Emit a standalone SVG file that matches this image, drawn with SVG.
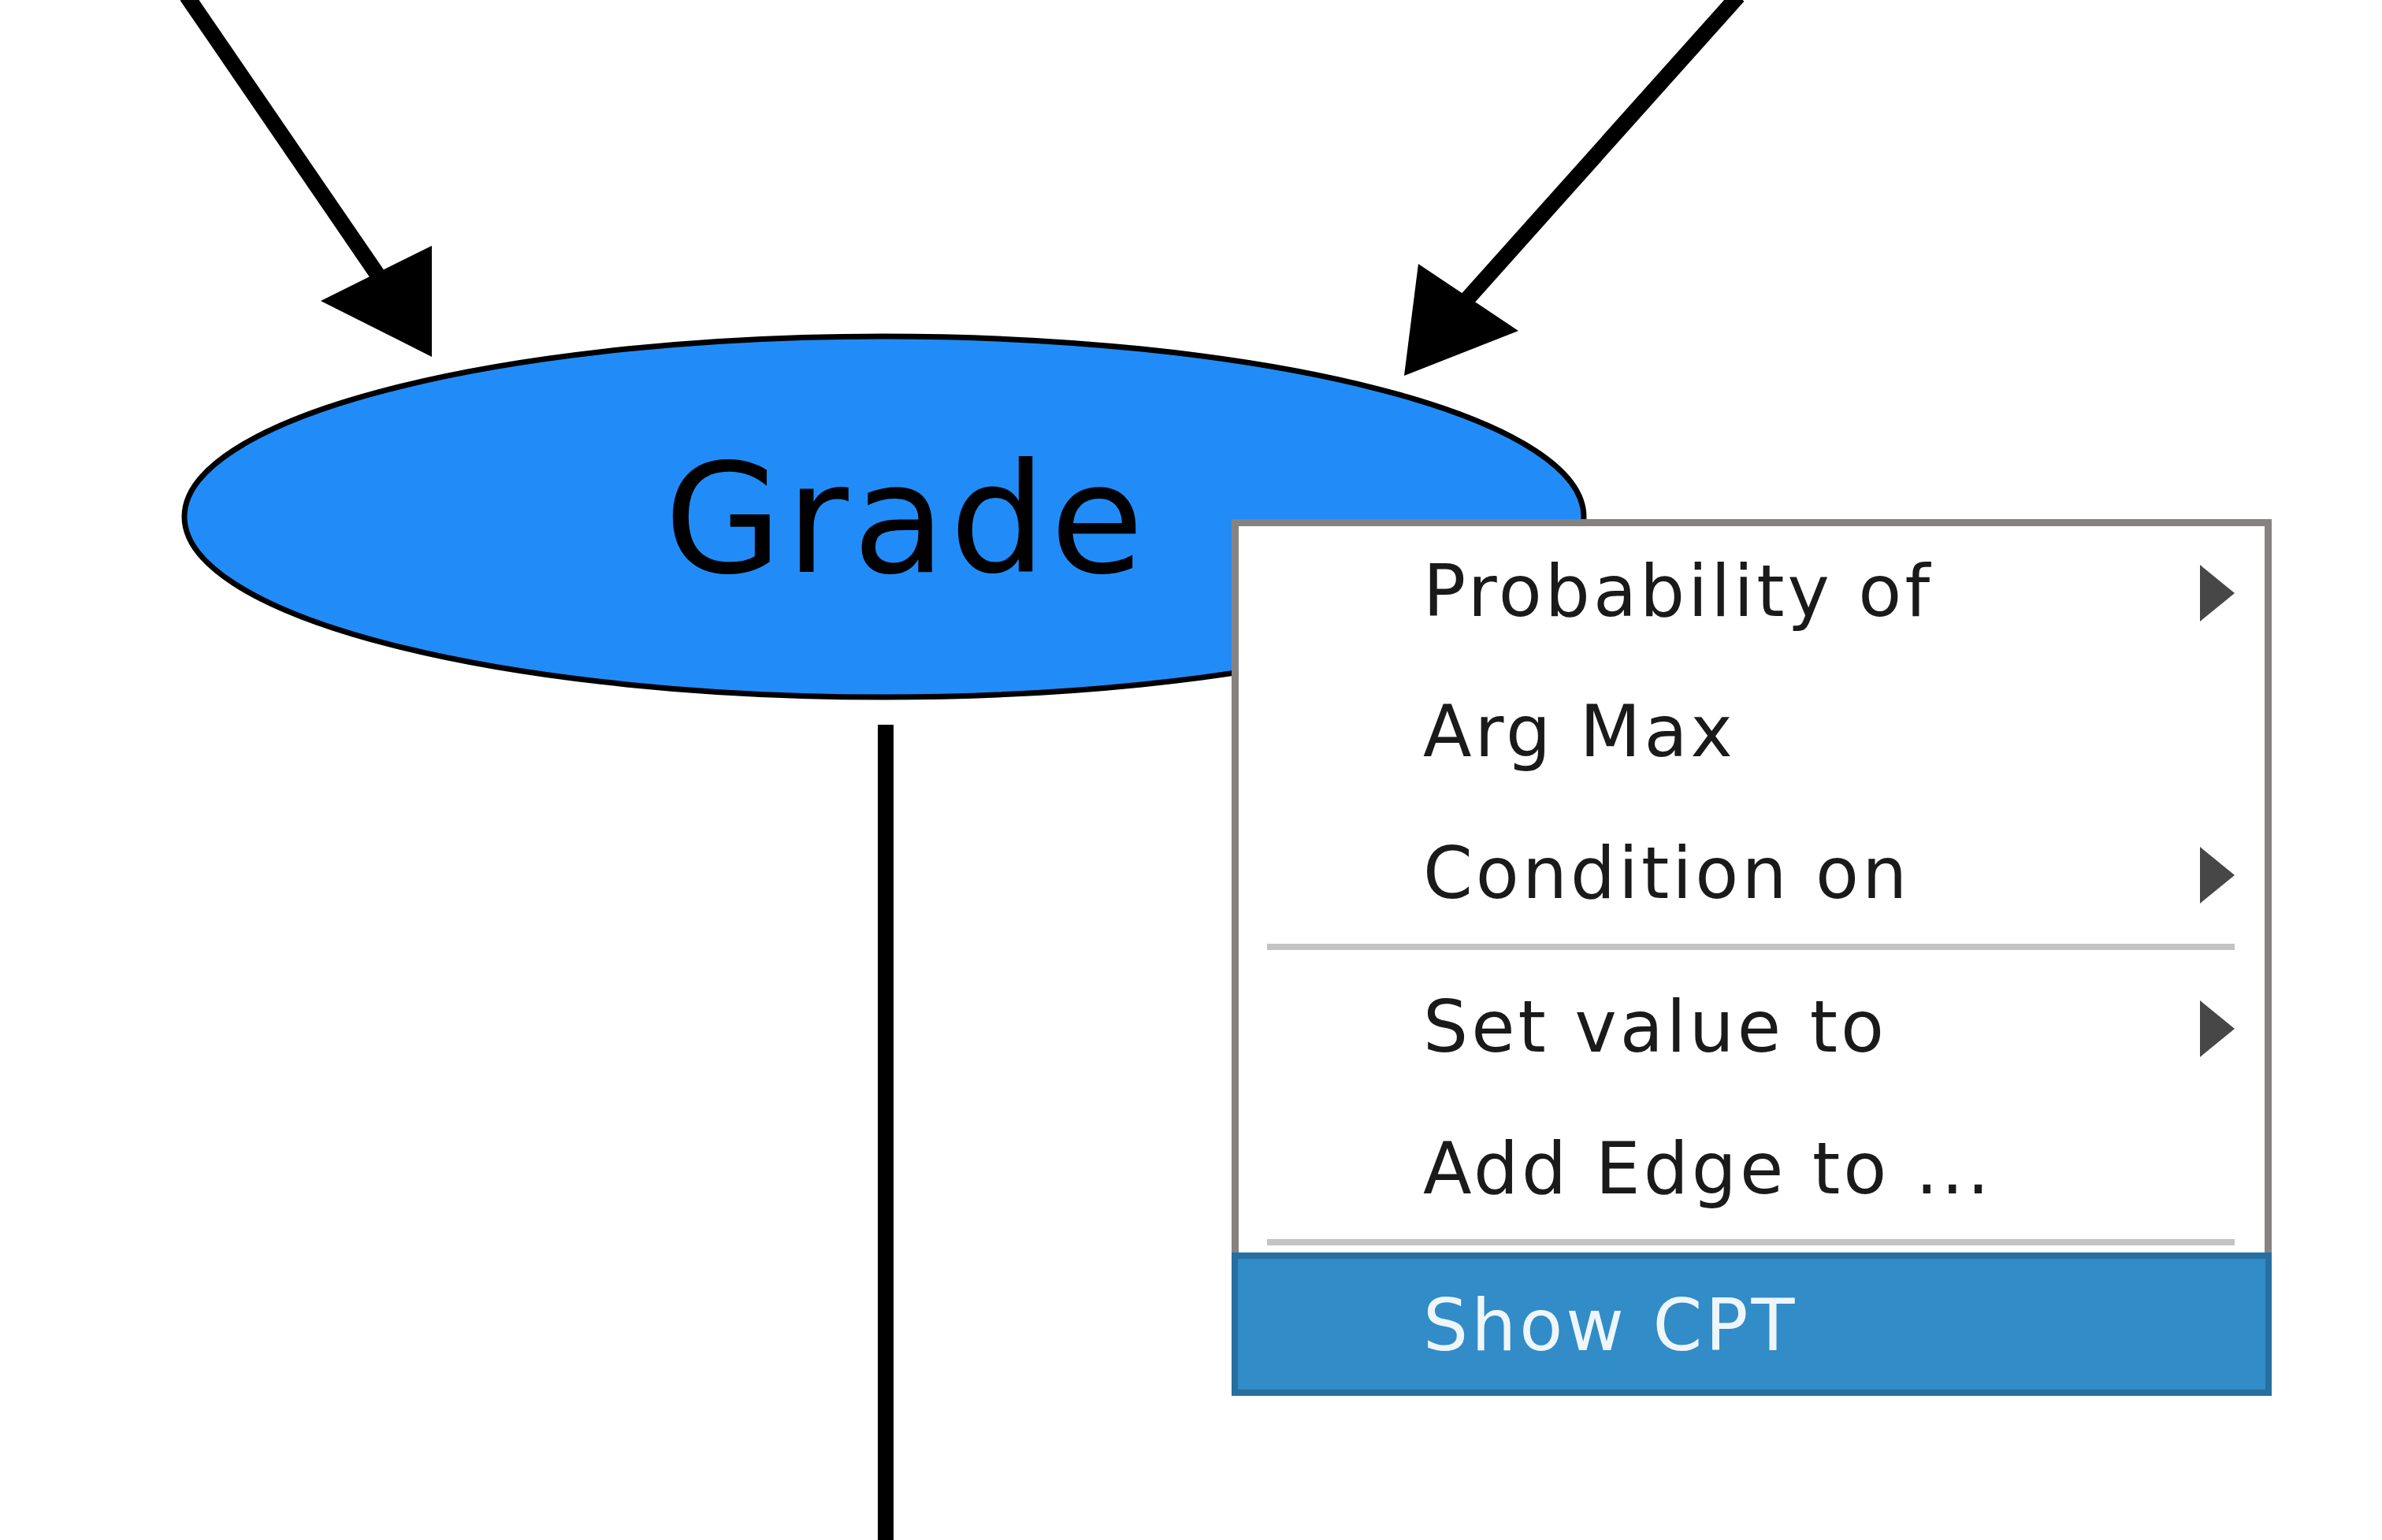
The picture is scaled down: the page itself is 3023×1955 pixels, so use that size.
<svg xmlns="http://www.w3.org/2000/svg" width="3023" height="1955" viewBox="0 0 3023 1955">
  <style>
    .edge { stroke: #000; stroke-width: 20; fill: none; }
    .head { fill: #000; stroke: none; }
    .node { fill: #218cf8; stroke: #000; stroke-width: 7; }
    .nlabel { font-family: "DejaVu Sans", sans-serif; font-size: 193px; letter-spacing: 5px; fill: #000; }
    .item { font-family: "DejaVu Sans", sans-serif; font-size: 90px; letter-spacing: 4px; fill: #1a1a1a; }
    .sep { fill: #c3c3c3; }
    .sub { fill: #474747; }
  </style>
  <rect x="0" y="0" width="3023" height="1955" fill="#ffffff"/>
  <g id="connectors">
    <line class="edge" x1="237" y1="-5" x2="480" y2="350"/>
    <polygon class="head" points="548,312 407,382 548,453"/>
    <line class="edge" x1="2206" y1="-5" x2="1860" y2="382"/>
    <polygon class="head" points="1800,335 1927,420 1782,477"/>
    <line class="edge" x1="1124" y1="920" x2="1124" y2="1960" stroke-width="21"/>
  </g>
  <g id="node-grade">
    <ellipse class="node" cx="1122" cy="656" rx="888" ry="229"/>
    <text class="nlabel" x="843" y="726">Grade</text>
  </g>
  <g id="context-menu">
    <rect x="1567.5" y="663.5" width="1311" height="1104" fill="#ffffff" stroke="#878282" stroke-width="9"/>
    <text class="item" x="1806" y="782">Probability of</text>
    <polygon class="sub" points="2792,717 2836,753 2792,789"/>
    <text class="item" x="1806" y="960">Arg Max</text>
    <text class="item" x="1806" y="1140">Condition on</text>
    <polygon class="sub" points="2792,1075 2836,1111 2792,1147"/>
    <rect class="sep" x="1608" y="1198" width="1228" height="8"/>
    <text class="item" x="1806" y="1335">Set value to</text>
    <polygon class="sub" points="2792,1270 2836,1306 2792,1342"/>
    <text class="item" x="1806" y="1515">Add Edge to ...</text>
    <rect class="sep" x="1608" y="1573" width="1228" height="8"/>
    <rect x="1567" y="1594" width="1312" height="174" fill="#318cc7" stroke="#266fa0" stroke-width="8"/>
    <text class="item" x="1806" y="1714" style="fill:#eef6fc">Show CPT</text>
  </g>
</svg>
